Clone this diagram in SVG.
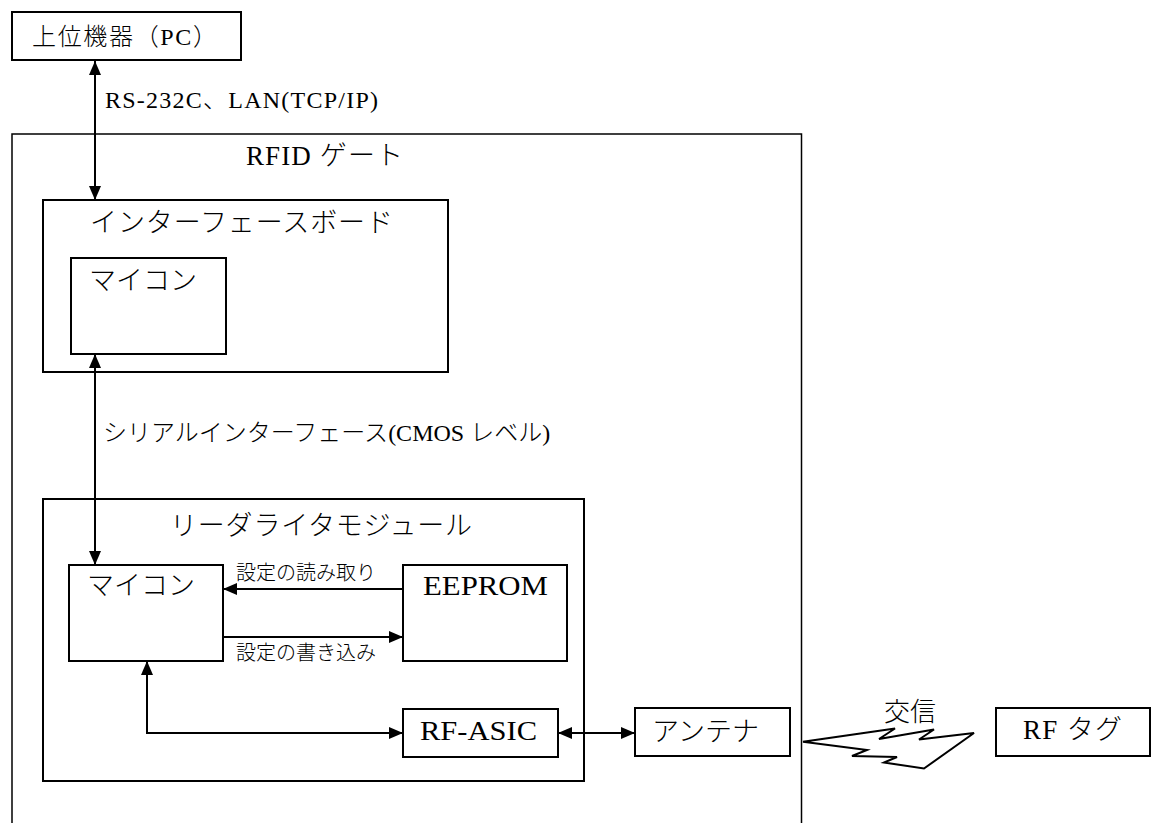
<svg xmlns="http://www.w3.org/2000/svg" width="1154" height="823" viewBox="0 0 1154 823">
<style>
  .box { fill: #fff; stroke: #000; stroke-width: 2; }
  .gate { fill: #fff; stroke: #000; stroke-width: 1.5; }
  .t { font-family: "Liberation Serif", "Noto Sans CJK JP", serif; font-weight: 300; fill: #000; }
  .j { font-family: "Noto Sans CJK JP", sans-serif; font-weight: 300; fill: #000; }
  .conn { fill: none; stroke: #000; stroke-width: 2; }
</style>
<defs>
  <marker id="ah" markerUnits="userSpaceOnUse" markerWidth="14" markerHeight="12" refX="14" refY="6" orient="auto-start-reverse">
    <path d="M0,0 L14,6 L0,12 z" fill="#000"/>
  </marker>
</defs>
<rect width="1154" height="823" fill="#fff"/>

<g id="pc">
  <rect class="box" x="12" y="12" width="229" height="48"/>
  <text class="t" x="32" y="45" font-size="24" textLength="185" lengthAdjust="spacing">上位機器（PC）</text>
</g>

<g id="gate">
  <rect class="gate" x="12" y="134" width="789.5" height="720"/>
  <text class="t" x="246" y="165" font-size="27" textLength="157" lengthAdjust="spacing">RFID ゲート</text>
</g>

<g id="interface-board">
  <rect class="box" x="43" y="200" width="405" height="172"/>
  <text class="j" x="90" y="232" font-size="27" textLength="303" lengthAdjust="spacing">インターフェースボード</text>
</g>

<g id="if-mcu">
  <rect class="box" x="71" y="258" width="155" height="96"/>
  <text class="j" x="89" y="290" font-size="27">マイコン</text>
</g>

<g id="rw-module">
  <rect class="box" x="43" y="499" width="541" height="282"/>
  <text class="j" x="170" y="535" font-size="27" textLength="302" lengthAdjust="spacing">リーダライタモジュール</text>
</g>

<g id="rw-mcu">
  <rect class="box" x="69" y="565" width="154" height="96"/>
  <text class="j" x="87" y="595" font-size="27">マイコン</text>
</g>

<g id="eeprom">
  <rect class="box" x="403" y="565" width="164" height="96"/>
  <text class="t" x="423" y="595" font-size="27" textLength="125" lengthAdjust="spacingAndGlyphs">EEPROM</text>
</g>

<g id="rf-asic">
  <rect class="box" x="403" y="709" width="155" height="48"/>
  <text class="t" x="420" y="740" font-size="27" textLength="117" lengthAdjust="spacingAndGlyphs">RF-ASIC</text>
</g>

<g id="antenna">
  <rect class="box" x="635" y="708" width="155" height="48"/>
  <text class="j" x="652" y="741" font-size="27">アンテナ</text>
</g>

<g id="rf-tag">
  <rect class="box" x="996" y="708" width="154" height="48"/>
  <text class="t" x="1023" y="739" font-size="27" textLength="99" lengthAdjust="spacing">RF タグ</text>
</g>

<g id="connectors">
  <line class="conn" x1="95" y1="61" x2="95" y2="200" marker-start="url(#ah)" marker-end="url(#ah)"/>
  <line class="conn" x1="95" y1="354" x2="95" y2="565" marker-start="url(#ah)" marker-end="url(#ah)"/>
  <line class="conn" x1="403" y1="589" x2="223" y2="589" marker-end="url(#ah)"/>
  <line class="conn" x1="223" y1="637" x2="403" y2="637" marker-end="url(#ah)"/>
  <polyline class="conn" points="147,661 147,733 403,733" marker-start="url(#ah)" marker-end="url(#ah)"/>
  <line class="conn" x1="558" y1="733" x2="635" y2="733" marker-start="url(#ah)" marker-end="url(#ah)"/>
  <polygon points="803,741.7 895,728.5 879,739 934,729.5 919,739.5 974,733 924,768.5 884,762.5 897,757 852,756 867,750" fill="#fff" stroke="#000" stroke-width="2" stroke-linejoin="miter"/>
  <text class="t" x="105" y="108" font-size="24" textLength="273" lengthAdjust="spacing">RS-232C、LAN(TCP/IP)</text>
  <text class="j" x="103" y="441" font-size="24">シリアルインターフェース<tspan class="t">(CMOS </tspan>レベル<tspan class="t">)</tspan></text>
  <text class="j" x="236" y="580" font-size="20">設定の読み取り</text>
  <text class="j" x="236" y="660" font-size="20">設定の書き込み</text>
  <text class="j" x="884" y="721" font-size="26">交信</text>
</g>
</svg>
